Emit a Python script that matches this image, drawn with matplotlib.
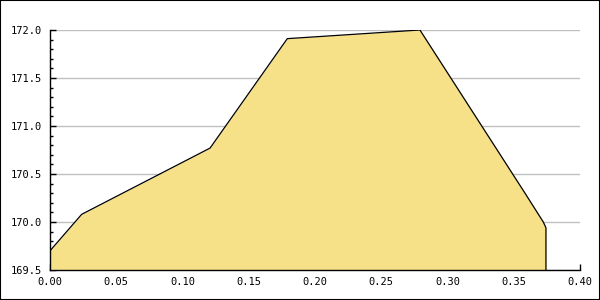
import matplotlib
matplotlib.use("Agg")
import matplotlib.pyplot as plt
from matplotlib.patches import Rectangle
from matplotlib.ticker import MultipleLocator

plt.rcParams["font.family"] = "DejaVu Sans Mono"

# values
x_vals = [0.0, 0.0239, 0.1208, 0.1791, 0.2792, 0.3585, 0.3723, 0.3743]
y_vals = [169.70, 170.08, 170.77, 171.91, 172.00, 170.30, 170.00, 169.94]
y_min, y_max = 169.5, 172.0
x_min, x_max = 0.0, 0.40

fill_color = "#F6E189"
grid_color = "#C0C0C0"

fig = plt.figure(figsize=(6, 3), dpi=100)
fig.patch.set_facecolor("white")
fig.patches.append(Rectangle((0, 0), 1, 1, transform=fig.transFigure,
                             fill=False, edgecolor="black", linewidth=1.5))

ax = fig.add_axes([50 / 600, 30 / 300, 530 / 600, 240 / 300])
ax.fill_between(x_vals, y_vals, y_min, color=fill_color, linewidth=0, zorder=2)
ax.plot(x_vals + [x_vals[-1]], y_vals + [y_min], color="black", linewidth=0.9, zorder=3)

ax.set_xlim(x_min, x_max)
ax.set_ylim(y_min, y_max)
ax.xaxis.set_major_locator(MultipleLocator(0.05))
ax.yaxis.set_major_locator(MultipleLocator(0.5))
ax.yaxis.set_minor_locator(MultipleLocator(0.1))
ax.xaxis.set_major_formatter(plt.FormatStrFormatter("%.2f"))
ax.yaxis.set_major_formatter(plt.FormatStrFormatter("%.1f"))

ax.grid(axis="y", which="major", color=grid_color, linewidth=1, zorder=1)
ax.set_axisbelow(True)

for side in ("top", "right"):
    ax.spines[side].set_visible(False)
for side in ("left", "bottom"):
    ax.spines[side].set_linewidth(1)
    ax.spines[side].set_zorder(4)

ax.tick_params(axis="y", which="major", direction="in", length=4, width=1, pad=6, labelsize=7.5)
ax.tick_params(axis="y", which="minor", direction="in", length=2.5, width=1)
ax.tick_params(axis="x", which="major", direction="in", length=4, width=1, pad=5, labelsize=7.5)

fig.savefig("out.png", dpi=100)
